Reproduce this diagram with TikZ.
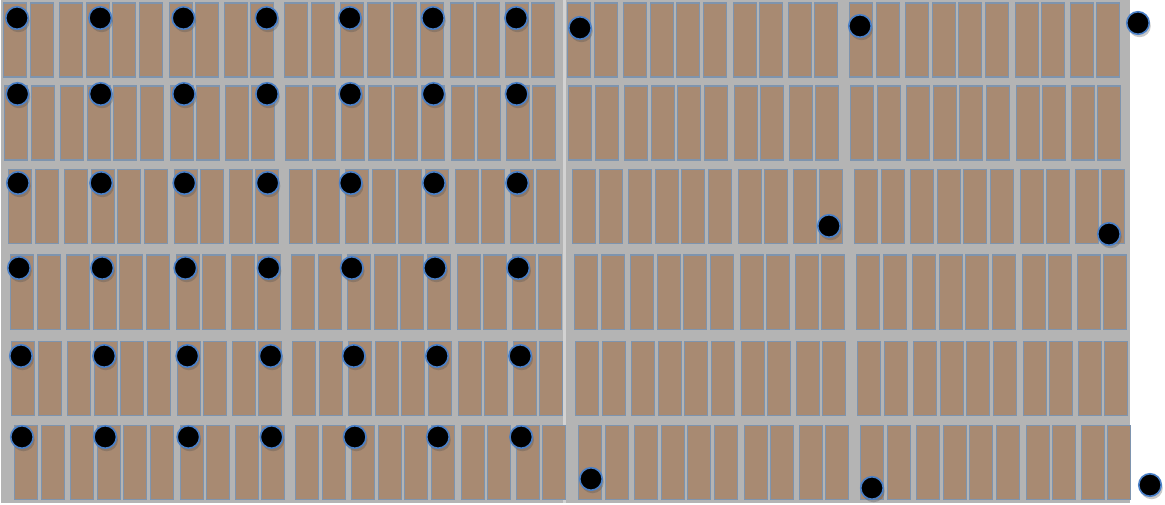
\documentclass[tikz,border=0pt]{standalone}
\usetikzlibrary{shadows}
\definecolor{panelfill}{HTML}{A88A72}
\definecolor{paneledge}{HTML}{7E94AE}
\definecolor{bggray}{HTML}{B4B4B4}
\definecolor{stripgray}{HTML}{D2D2D2}
\definecolor{dotedge}{HTML}{4A80C8}
\begin{document}
\begin{tikzpicture}[x=1pt,y=-1pt,
  panel/.style={rectangle, draw=paneledge, fill=panelfill, line width=1.4pt,
    minimum width=23pt, minimum height=74pt, inner sep=0pt, anchor=north west},
  dot/.style={circle, fill=black, draw=dotedge, line width=1.6pt,
    minimum size=22.5pt, inner sep=0pt,
    drop shadow={shadow xshift=1.5pt, shadow yshift=-3pt, opacity=0.3, fill=black!70}},
  bg/.style={fill=bggray}]
\useasboundingbox (0,0) rectangle (1165,505);
% background boards
\fill[bg] (1,0) rectangle (563,503);
\fill[bg] (566,0) rectangle (1130,503);
\fill[stripgray] (562.5,0) rectangle (566,503);
% panels
\foreach \r/\top/\d in {1/2.5/0, 2/85.5/1, 3/169/5, 4/254.5/7, 5/340.5/8, 6/424.5/11} {
  \foreach \b/\bx in {1/2.5, 2/283.5, 3/566.5, 4/848.5} {
    \foreach \p/\ox in {1/0, 2/27, 3/56.5, 4/83, 5/109.5, 6/136.5, 7/166, 8/192, 9/221.5, 10/247.5} {
      \node[panel] (p-\r-\b-\p) at ({\bx+\d+\ox}, \top) {};
    }
  }
}
% regular dots
\foreach \r/\y/\s in {1/18/0, 2/94/0.5, 3/183/1, 4/268/2, 5/356/4, 6/437/5} {
  \foreach \k in {0,...,6} {
    \node[dot] (d-\r-\k) at ({17+83.2*\k+\s}, \y) {};
  }
}
% extra dots
\node[dot] (e1) at (580,28) {};
\node[dot] (e2) at (860,26) {};
\node[dot] (e3) at (1138,23) {};
\node[dot] (e4) at (829,226) {};
\node[dot] (e5) at (1109,234) {};
\node[dot] (e6) at (591,479) {};
\node[dot] (e7) at (872,488) {};
\node[dot] (e8) at (1150,485) {};
\end{tikzpicture}
\end{document}
